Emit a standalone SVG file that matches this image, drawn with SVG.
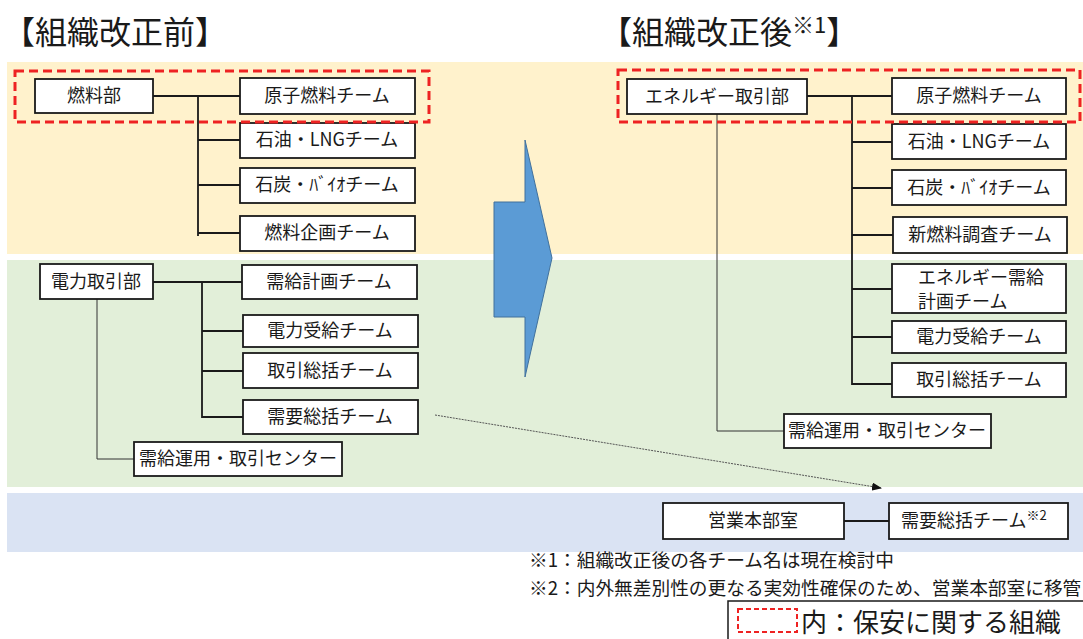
<svg xmlns="http://www.w3.org/2000/svg" width="1083" height="639" viewBox="0 0 1083 639">
<defs>
<style>
text{font-family:"Noto Sans CJK JP","Noto Sans",sans-serif;fill:#1a1a1a}
.box{fill:#fff;stroke:#1a1a1a;stroke-width:1.8}
.lbl{font-size:18px;text-anchor:middle}
.ttl{font-size:32px}
.note{font-size:18.7px}
.conn{fill:none;stroke:#1a1a1a;stroke-width:1.8}
.thin{fill:none;stroke:#333;stroke-width:1}
.safe{fill:none;stroke:#EE2222;stroke-width:3;stroke-dasharray:9 5}
</style>
<marker id="ah" markerWidth="10" markerHeight="8" refX="9" refY="4" orient="auto" markerUnits="userSpaceOnUse">
<path d="M0,0 L10,4 L0,8 z" fill="#111"/>
</marker>
</defs>
<rect x="0" y="0" width="1083" height="639" fill="#fff"/>
<g id="bands">
<rect x="7" y="62" width="1076" height="192" fill="#FFF2CC"/>
<rect x="7" y="260" width="1076" height="227" fill="#E2EFD9"/>
<rect x="7" y="493" width="1076" height="59" fill="#DAE3F3"/>
</g>
<g id="titles">
<text class="ttl" x="3" y="44">【組織改正前】</text>
<text class="ttl" x="600" y="44">【組織改正後<tspan font-size="22" dy="-11">※1</tspan><tspan dy="11">】</tspan></text>
</g>
<g id="arrow">
<polygon points="494,202 525,202 525,140 552,258 525,377 525,317 494,317" fill="#5B9BD5" stroke="#41719C" stroke-width="1"/>
</g>
<g id="connectors">
<path class="conn" d="M153,96 H240 M198,96 V236 M198,140 H240 M198,185 H240 M198,233 H240"/>
<path class="conn" d="M153,282 H242 M202,282 V418 M202,331 H243 M202,371 H243 M202,417 H243"/>
<path class="thin" d="M97,299 V459 H134"/>
<path class="conn" d="M807,96 H892 M852,96 V384 H892 M852,142 H892 M852,188 H892 M852,235 H893 M852,289 H892 M852,337 H892"/>
<path class="thin" d="M717,114 V431 H784"/>
<path class="conn" d="M844,521 H889"/>
<line x1="435" y1="415" x2="881" y2="488" stroke="#555" stroke-width="1" stroke-dasharray="2 1" marker-end="url(#ah)"/>
</g>
<g id="n-fuel"><rect class="box" x="35" y="79" width="118" height="34"/><text class="lbl" x="94" y="102">燃料部</text></g>
<g id="n-nuc1"><rect class="box" x="240" y="78" width="175" height="36"/><text class="lbl" x="327" y="102">原子燃料チーム</text></g>
<g id="n-oil1"><rect class="box" x="240" y="123" width="175" height="35"/><text class="lbl" x="327" y="146">石油・LNGチーム</text></g>
<g id="n-coal1"><rect class="box" x="240" y="168" width="175" height="35"/><text class="lbl" x="327" y="191">石炭・ﾊﾞｲｵチーム</text></g>
<g id="n-plan1"><rect class="box" x="240" y="216" width="175" height="35"/><text class="lbl" x="327" y="239">燃料企画チーム</text></g>
<g id="n-power"><rect class="box" x="40" y="264" width="113" height="35"/><text class="lbl" x="96" y="288">電力取引部</text></g>
<g id="n-sdplan"><rect class="box" x="242" y="265" width="175" height="34"/><text class="lbl" x="329" y="288">需給計画チーム</text></g>
<g id="n-recv1"><rect class="box" x="243" y="315" width="175" height="32"/><text class="lbl" x="330" y="337">電力受給チーム</text></g>
<g id="n-trade1"><rect class="box" x="243" y="353" width="175" height="35"/><text class="lbl" x="330" y="377">取引総括チーム</text></g>
<g id="n-demand1"><rect class="box" x="243" y="400" width="175" height="34"/><text class="lbl" x="330" y="423">需要総括チーム</text></g>
<g id="n-center1"><rect class="box" x="134" y="442" width="208" height="34"/><text class="lbl" x="238" y="465">需給運用・取引センター</text></g>
<g id="n-energy"><rect class="box" x="627" y="79" width="180" height="35"/><text class="lbl" x="717" y="103">エネルギー取引部</text></g>
<g id="n-nuc2"><rect class="box" x="892" y="78" width="174" height="36"/><text class="lbl" x="979" y="102">原子燃料チーム</text></g>
<g id="n-oil2"><rect class="box" x="892" y="124" width="174" height="35"/><text class="lbl" x="979" y="148">石油・LNGチーム</text></g>
<g id="n-coal2"><rect class="box" x="892" y="170" width="174" height="35"/><text class="lbl" x="979" y="194">石炭・ﾊﾞｲｵチーム</text></g>
<g id="n-newfuel"><rect class="box" x="893" y="217" width="174" height="36"/><text class="lbl" x="980" y="241">新燃料調査チーム</text></g>
<g id="n-esd"><rect class="box" x="892" y="264" width="174" height="49"/><text x="918" y="284" font-size="18">エネルギー需給</text><text x="918" y="308" font-size="18">計画チーム</text></g>
<g id="n-recv2"><rect class="box" x="892" y="321" width="174" height="32"/><text class="lbl" x="979" y="343">電力受給チーム</text></g>
<g id="n-trade2"><rect class="box" x="892" y="363" width="174" height="34"/><text class="lbl" x="979" y="386">取引総括チーム</text></g>
<g id="n-center2"><rect class="box" x="784" y="414" width="207" height="34"/><text class="lbl" x="887" y="437">需給運用・取引センター</text></g>
<g id="n-sales"><rect class="box" x="663" y="503" width="181" height="36"/><text class="lbl" x="753" y="527">営業本部室</text></g>
<g id="n-demand2"><rect class="box" x="889" y="503" width="179" height="36"/><text x="901" y="527" font-size="18">需要総括チーム<tspan font-size="13" dy="-7">※2</tspan></text></g>
<g id="safety">
<rect class="safe" x="15" y="71" width="414" height="51"/>
<rect class="safe" x="618" y="70" width="462" height="52"/>
</g>
<g id="notes">
<text class="note" x="529" y="567">※1：組織改正後の各チーム名は現在検討中</text>
<text class="note" x="529" y="595">※2：内外無差別性の更なる実効性確保のため、営業本部室に移管</text>
</g>
<g id="legend">
<rect x="728" y="601" width="400" height="100" fill="#fff" stroke="#1a1a1a" stroke-width="1.5"/>
<rect x="738" y="609" width="59" height="23" fill="none" stroke="#EE2222" stroke-width="2" stroke-dasharray="5 3"/>
<text x="801" y="632" font-size="26">内：保安に関する組織</text>
</g>
</svg>
